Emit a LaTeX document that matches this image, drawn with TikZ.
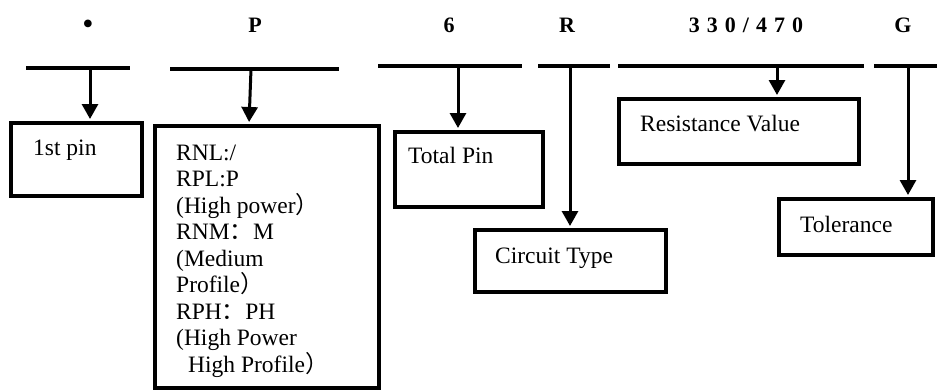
\documentclass[tikz,border=0pt]{standalone}
\usepackage{fontspec}
\setmainfont{Liberation Serif}
\newfontfamily\cjk{Noto Sans CJK SC}
\usetikzlibrary{arrows.meta}
\begin{document}
\begin{tikzpicture}[x=1pt,y=-1pt,
  bar/.style={line width=4pt},
  arr/.style={line width=3pt,-{Triangle[width=16pt,length=15pt]},shorten >=2pt},
  box/.style={draw,line width=4pt,inner sep=0pt},
  head/.style={font=\fontsize{22}{26}\selectfont\bfseries,anchor=base,inner sep=0pt},
  lbl/.style={font=\fontsize{23.5}{26.5}\selectfont,anchor=base west,inner sep=0pt}]
\useasboundingbox (0,0) rectangle (937,391);
% header
\node[head,font=\fontsize{32}{36}\selectfont] (h1) at (88,34) {•};
\node[head] (h2) at (255,32) {P};
\node[head] (h3) at (449,32) {6};
\node[head] (h4) at (567,32) {R};
\node[head] (h5) at (746,32) {3\kern7pt3\kern7pt0\kern7pt/\kern7pt4\kern7pt7\kern7pt0};
\node[head] (h6) at (903,32) {G};
% bars
\coordinate (l1) at (26,68);  \coordinate (r1) at (130,68);
\coordinate (l2) at (170,69); \coordinate (r2) at (339,69);
\coordinate (l3) at (378,66); \coordinate (r3) at (522,66);
\coordinate (l4) at (538,66); \coordinate (r4) at (610,66);
\coordinate (l5) at (618,66); \coordinate (r5) at (864,66);
\coordinate (l6) at (874,66); \coordinate (r6) at (937,66);
\foreach \i in {1,...,6} \draw[bar] (l\i) -- (r\i);
% boxes
\node[box,minimum width=131pt,minimum height=73pt] (b1) at (76.5,159.5) {};
\node[box,minimum width=224pt,minimum height=262pt] (b2) at (267,257) {};
\node[box,minimum width=148pt,minimum height=75pt] (b3) at (469,169.5) {};
\node[box,minimum width=191pt,minimum height=62pt] (b4) at (570.5,261) {};
\node[box,minimum width=240pt,minimum height=65pt] (b5) at (739,131.5) {};
\node[box,minimum width=154pt,minimum height=56pt] (b6) at (856,227) {};
% texts
\node[lbl] (t1) at (33,155) {1st pin};
\node[lbl] (t2) at (176,160) {\parbox[t]{200pt}{\raggedright RNL:/\\RPL:P\\(High power{\cjk ）}\\RNM{\cjk ：}M\\(Medium\\Profile{\cjk ）}\\RPH{\cjk ：}PH\\(High Power\\\hspace*{12pt}High Profile{\cjk ）}}};
\node[lbl] (t3) at (408,163) {Total Pin};
\node[lbl] (t4) at (495,263) {Circuit Type};
\node[lbl] (t5) at (640,131) {Resistance Value};
\node[lbl] (t6) at (800,232) {Tolerance};
% arrows
\coordinate (s1) at (90,68);
\coordinate (s2) at (251,69); \coordinate (e2) at (249,69);
\coordinate (s3) at (458,66);
\coordinate (s4) at (570,66);
\coordinate (s5) at (777,66);
\coordinate (s6) at (908,66);
\draw[arr] (s1) -- (s1 |- b1.north);
\draw[arr] (s2) -- (e2 |- b2.north);
\draw[arr] (s3) -- (s3 |- b3.north);
\draw[arr] (s4) -- (s4 |- b4.north);
\draw[arr] (s5) -- (s5 |- b5.north);
\draw[arr] (s6) -- (s6 |- b6.north);
\end{tikzpicture}
\end{document}
